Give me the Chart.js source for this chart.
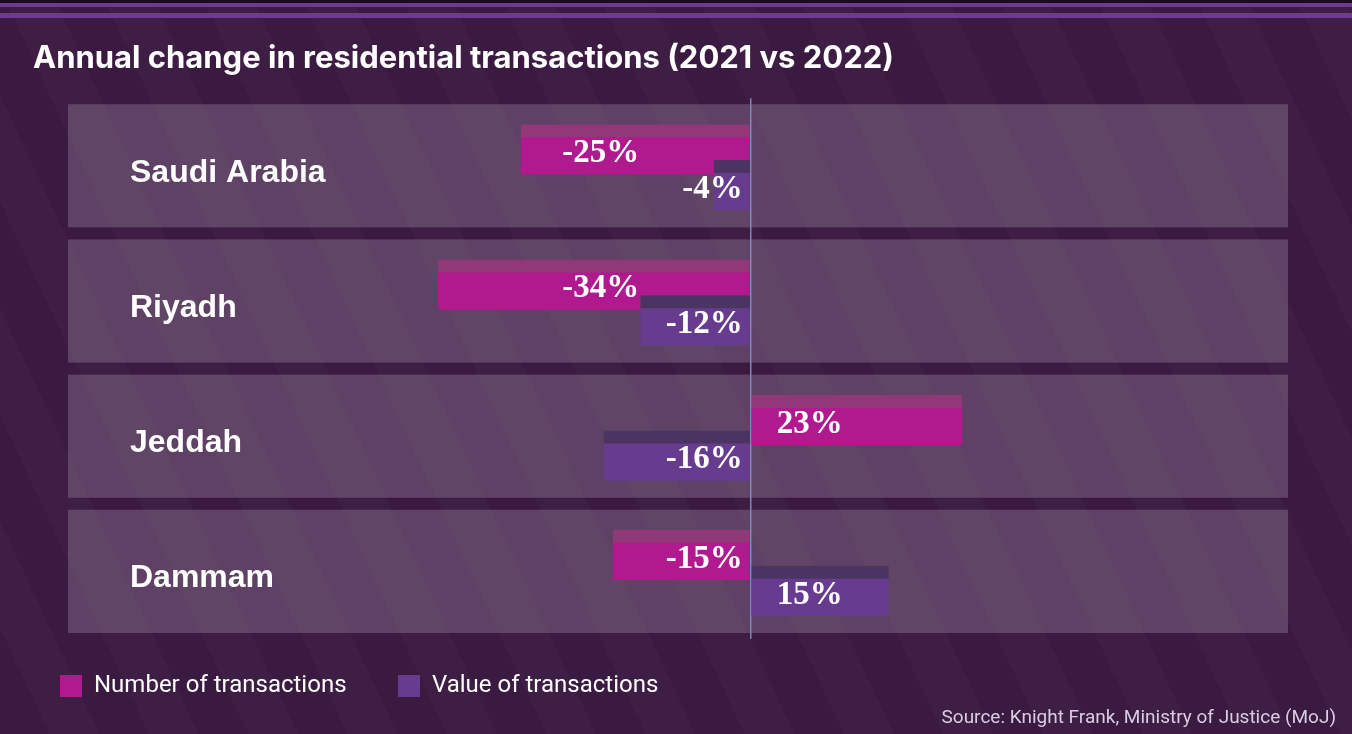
<!DOCTYPE html>
<html>
<head>
<meta charset="utf-8">
<title>Annual change in residential transactions</title>
<script src="https://cdn.jsdelivr.net/npm/chart.js@4.4.1/dist/chart.umd.min.js"></script>
<style>
  html, body { margin: 0; padding: 0; }
  body {
    width: 1352px;
    height: 734px;
    overflow: hidden;
    background:
      linear-gradient(to bottom, #1b0b1e 0, #1b0b1e 3px, #6c3b90 3px, #6c3b90 7px, transparent 7px, transparent 13px, #6c3b90 13px, #6c3b90 18px, transparent 18px),
      repeating-linear-gradient(65deg, rgba(255,255,255,0) 0 45px, rgba(255,255,255,0.018) 45px 90px),
      #3b1a41;
  }
  #wrap { position: relative; width: 1352px; height: 734px; }
</style>
</head>
<body>
<div id="wrap"><canvas id="txChart"></canvas></div>
<script>
// Annual change 2021 vs 2022, in percent
const categories = ['Saudi Arabia', 'Riyadh', 'Jeddah', 'Dammam'];
const numberOfTransactions = [-25, -34, 23, -15];
const valueOfTransactions = [-4, -12, -16, 15];
const seriesNames = ['Number of transactions', 'Value of transactions'];
const titleText = 'Annual change in residential transactions (2021 vs 2022)';
const sourceText = 'Source: Knight Frank, Ministry of Justice (MoJ)';

// the two bars of a row sit a little above / below the row centre and overlap
const NUMBER_SHIFT = -0.12;
const VALUE_SHIFT = 0.145;
const PANEL_GAP = 12;

// grey-purple band behind each category row
const rowPanels = {
    id: 'rowPanels',
    beforeDraw(chart) {
        const { ctx, chartArea } = chart;
        const y = chart.scales.y;
        ctx.save();
        ctx.fillStyle = 'rgba(236, 224, 240, 0.2)';
        categories.forEach((_, i) => {
            const top = y.getPixelForValue(i - 0.5) + PANEL_GAP / 2;
            const bottom = y.getPixelForValue(i + 0.5) - PANEL_GAP / 2;
            ctx.fillRect(chartArea.left, top, chartArea.right - chartArea.left, bottom - top);
        });
        ctx.restore();
    }
};

// percentage written on every bar, kept close to the zero line
// (long negative bars get it further out along the bar)
const valueLabels = {
    id: 'valueLabels',
    afterDatasetsDraw(chart) {
        const { ctx } = chart;
        const zero = chart.scales.x.getPixelForValue(0);
        ctx.save();
        ctx.font = 'bold 33px "Liberation Serif", "DejaVu Serif", serif';
        ctx.fillStyle = '#ffffff';
        ctx.textBaseline = 'middle';
        chart.data.datasets.forEach((ds, di) => {
            chart.getDatasetMeta(di).data.forEach((bar, i) => {
                const v = ds.data[i].x;
                const text = v + '%';
                const len = Math.abs(bar.x - zero);
                let x;
                if (v >= 0) {
                    ctx.textAlign = 'left';
                    x = zero + 26;
                } else if (len > 200) {
                    ctx.textAlign = 'center';
                    x = zero - 150;
                } else {
                    ctx.textAlign = 'right';
                    x = zero - 8;
                }
                ctx.fillText(text, x, bar.y + 4);
            });
        });
        ctx.restore();
    }
};

const sourceNote = {
    id: 'sourceNote',
    afterDraw(chart) {
        const { ctx } = chart;
        ctx.save();
        ctx.font = '19px Roboto, "Liberation Sans", sans-serif';
        ctx.fillStyle = '#d8cde2';
        ctx.textAlign = 'right';
        ctx.textBaseline = 'middle';
        ctx.fillText(sourceText, chart.width - 16, chart.height - 16);
        ctx.restore();
    }
};

const ctx = document.getElementById('txChart');

new Chart(ctx, {
    type: 'bar',
    data: {
        datasets: [{
            label: seriesNames[0],
            data: numberOfTransactions.map((v, i) => ({ x: v, y: i + NUMBER_SHIFT })),
            backgroundColor: '#b01a8e',
            borderColor: '#903878',
            borderWidth: { top: 13, right: 0, bottom: 0, left: 0 },
            borderSkipped: false,
            barThickness: 50,
            grouped: false,
            order: 1
        }, {
            label: seriesNames[1],
            data: valueOfTransactions.map((v, i) => ({ x: v, y: i + VALUE_SHIFT })),
            backgroundColor: '#673b8e',
            borderColor: '#4a3461',
            borderWidth: { top: 13, right: 0, bottom: 0, left: 0 },
            borderSkipped: false,
            barThickness: 50,
            grouped: false,
            order: 0
        }]
    },
    options: {
        indexAxis: 'y',
        responsive: true,
        maintainAspectRatio: false,
        animation: false,
        layout: {
            padding: { top: 0, left: 33, right: 64, bottom: 26 }
        },
        scales: {
            x: {
                type: 'linear',
                min: -74.2,
                max: 58.4,
                afterBuildTicks: (scale) => { scale.ticks = [{ value: 0 }]; },
                afterFit: (scale) => { scale.height = 8; },
                ticks: { display: false },
                border: { display: false },
                grid: {
                    drawTicks: false,
                    color: (c) => c.tick && c.tick.value === 0 ? '#7e87b6' : 'transparent',
                    lineWidth: 1.5
                }
            },
            y: {
                type: 'linear',
                reverse: true,
                offset: false,
                min: -0.5,
                max: 3.5,
                afterBuildTicks: (scale) => {
                    scale.ticks = categories.map((_, i) => ({ value: i }));
                },
                afterFit: (scale) => { scale.width = 35; },
                ticks: {
                    mirror: true,
                    padding: 62,
                    labelOffset: 7,
                    autoSkip: false,
                    color: '#ffffff',
                    font: { family: '"Liberation Sans", Arial, sans-serif', size: 32, weight: 'bold' },
                    callback: (v) => categories[v]
                },
                border: { display: false },
                grid: { display: false }
            }
        },
        plugins: {
            title: {
                display: true,
                text: titleText,
                align: 'start',
                color: '#ffffff',
                font: { family: 'Inter, "Liberation Sans", sans-serif', size: 31, weight: 'bold' },
                padding: { top: 40, bottom: 21 }
            },
            legend: {
                position: 'bottom',
                align: 'start',
                labels: {
                    color: '#ffffff',
                    font: { family: 'Roboto, "Liberation Sans", sans-serif', size: 24 },
                    boxWidth: 22,
                    boxHeight: 22,
                    padding: 27,
                    generateLabels: (chart) => Chart.defaults.plugins.legend.labels.generateLabels(chart)
                        .map(item => Object.assign(item, { lineWidth: 0, text: item.text + '\u2002\u2002' }))
                        .sort((a, b) => a.datasetIndex - b.datasetIndex)
                }
            },
            tooltip: { enabled: false }
        }
    },
    plugins: [rowPanels, valueLabels, sourceNote]
});
</script>
</body>
</html>
